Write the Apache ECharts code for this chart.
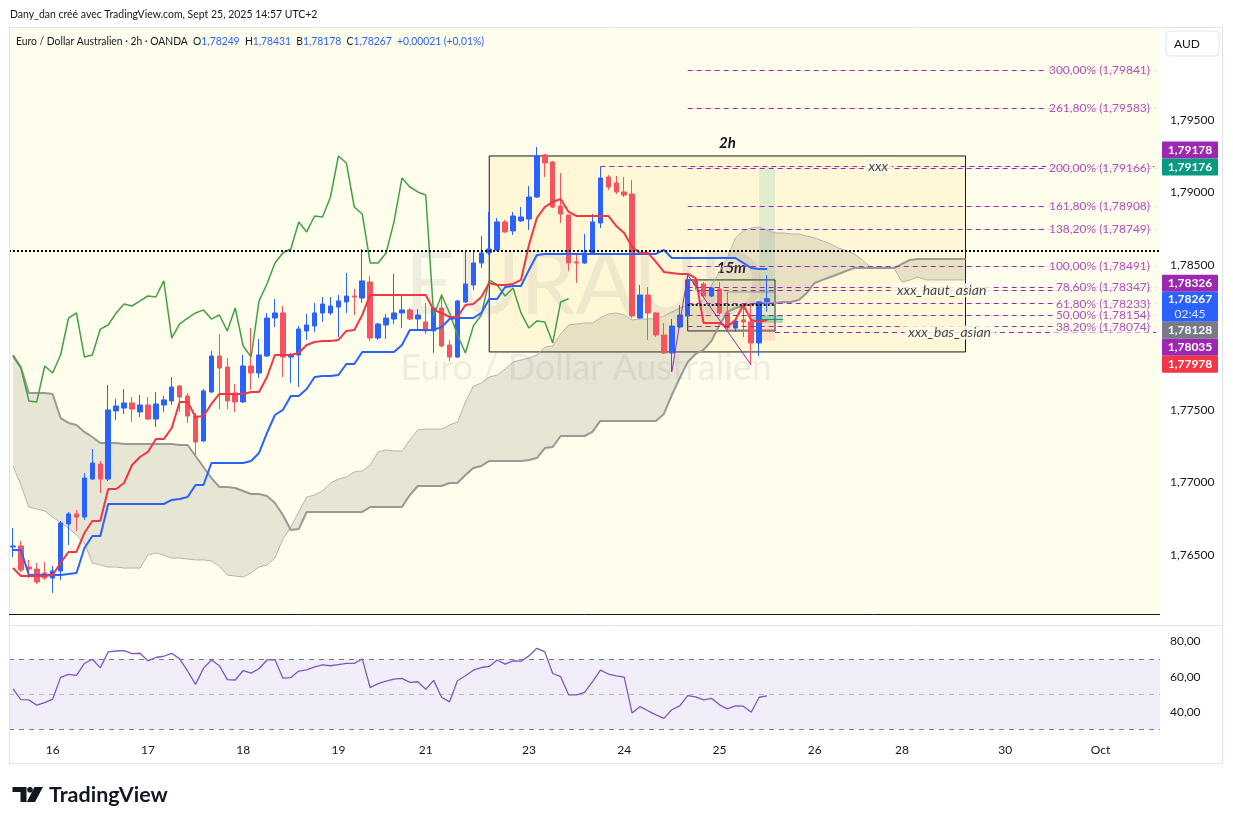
<!DOCTYPE html>
<html><head><meta charset="utf-8">
<script src="https://cdn.jsdelivr.net/npm/echarts@6/dist/echarts.min.js"></script>
<style>html,body{margin:0;padding:0;background:#fff;}#c{width:1233px;height:824px;}</style>
</head><body><div id="c"></div>
<script>
const FONT = 'Lato, "Liberation Sans", sans-serif';
const slotCount = 145;
const dayLabels = ['16','17','18','19','21','23','24','25','26','28','30','Oct'];
const dayIndex  = [5,17,29,41,52,65,77,89,101,112,125,137];

const opens = [1.76554,1.76561,1.76416,1.76402,1.76375,1.76340,1.76389,1.76713,1.76782,1.76761,
1.77023,1.77127,1.77023,1.77493,1.77513,1.77548,1.77486,1.77534,1.77437,1.77534,
1.77562,1.77665,1.77596,1.77458,1.77286,1.77624,1.77872,1.77796,1.77617,1.77555,
1.77803,1.77755,1.77872,1.78134,1.78169,1.77865,1.77879,1.78045,1.78079,1.78169,
1.78169,1.78210,1.78245,1.78286,1.78272,1.78383,1.77996,1.78086,1.78127,1.78169,
1.78190,1.78127,1.78107,1.78045,1.78203,1.77948,1.77865,1.78245,1.78362,1.78514,
1.78583,1.78604,1.78797,1.78735,1.78804,1.78817,1.78969,1.79259,1.79211,1.78907,
1.78845,1.78521,1.78514,1.78583,1.78790,1.79107,1.79066,1.79004,1.78990,1.78134,
1.78293,1.78169,1.78017,1.77893,1.78072,1.78148,1.78397,1.78369,1.78286,1.78334,
1.78169,1.78065,1.78121,1.78107,1.77962,1.78249];
const highs = [1.76685,1.76596,1.76465,1.76444,1.76451,1.76423,1.76734,1.76796,1.76810,1.77065,
1.77230,1.77148,1.77672,1.77575,1.77644,1.77589,1.77603,1.77589,1.77624,1.77596,
1.77727,1.77672,1.77617,1.77479,1.77644,1.77907,1.78024,1.77858,1.77679,1.77879,
1.78065,1.77989,1.78169,1.78265,1.78217,1.77893,1.78079,1.78162,1.78238,1.78279,
1.78279,1.78293,1.78445,1.78334,1.78610,1.78424,1.78100,1.78162,1.78438,1.78286,
1.78203,1.78196,1.78238,1.78210,1.78300,1.77983,1.78259,1.78604,1.78590,1.78700,
1.78866,1.78824,1.78811,1.78866,1.78900,1.79045,1.79314,1.79266,1.79218,1.79135,
1.78845,1.78569,1.78714,1.78852,1.79176,1.79121,1.79114,1.79107,1.79087,1.78362,
1.78348,1.78176,1.78100,1.78127,1.78224,1.78431,1.78417,1.78383,1.78348,1.78383,
1.78314,1.78121,1.78231,1.78238,1.78252,1.78431];
const lows = [1.76485,1.76382,1.76340,1.76299,1.76327,1.76237,1.76327,1.76568,1.76665,1.76741,
1.77017,1.76927,1.77010,1.77431,1.77472,1.77417,1.77451,1.77431,1.77382,1.77486,
1.77534,1.77486,1.77410,1.77189,1.77279,1.77617,1.77506,1.77506,1.77486,1.77548,
1.77638,1.77720,1.77865,1.78072,1.77727,1.77686,1.77658,1.77983,1.78038,1.78107,
1.78155,1.78003,1.78169,1.78155,1.78238,1.77976,1.77983,1.77989,1.78093,1.78065,
1.78121,1.78058,1.78024,1.77893,1.77934,1.77838,1.77858,1.78238,1.78328,1.78479,
1.78569,1.78597,1.78721,1.78707,1.78797,1.78742,1.78962,1.79107,1.78893,1.78790,
1.78459,1.78376,1.78507,1.78576,1.78755,1.79018,1.78990,1.78969,1.78134,1.78127,
1.77983,1.78003,1.77886,1.77762,1.78065,1.78141,1.78328,1.78279,1.78279,1.78155,
1.78052,1.78038,1.78003,1.77810,1.77872,1.78178];
const closes = [1.76561,1.76396,1.76402,1.76313,1.76340,1.76389,1.76720,1.76782,1.76761,1.77030,
1.77134,1.77023,1.77500,1.77527,1.77548,1.77506,1.77534,1.77437,1.77541,1.77569,
1.77658,1.77589,1.77458,1.77279,1.77631,1.77872,1.77789,1.77562,1.77555,1.77803,
1.77755,1.77879,1.78134,1.78169,1.77865,1.77879,1.78058,1.78086,1.78169,1.78231,
1.78217,1.78252,1.78286,1.78279,1.78390,1.77996,1.78093,1.78134,1.78169,1.78190,
1.78127,1.78155,1.78045,1.78203,1.77941,1.77865,1.78252,1.78369,1.78514,1.78583,
1.78610,1.78797,1.78728,1.78838,1.78831,1.78969,1.79252,1.79204,1.78900,1.78852,
1.78514,1.78514,1.78583,1.78797,1.79100,1.79038,1.79004,1.78983,1.78148,1.78293,
1.78169,1.78017,1.77893,1.78079,1.78155,1.78397,1.78362,1.78286,1.78341,1.78169,
1.78065,1.78114,1.78107,1.77962,1.78245,1.78267];

const tenkan = [1.76409,1.76354,1.76354,1.76354,1.76354,1.76361,1.76444,1.76520,1.76520,1.76651,
1.76734,1.76734,1.76954,1.76954,1.76996,1.77120,1.77175,1.77210,1.77299,1.77299,
1.77375,1.77555,1.77555,1.77451,1.77458,1.77541,1.77610,1.77610,1.77610,1.77610,
1.77624,1.77624,1.77727,1.77879,1.77879,1.77879,1.77893,1.77948,1.77969,1.77976,
1.77976,1.77983,1.78045,1.78052,1.78155,1.78293,1.78293,1.78293,1.78293,1.78293,
1.78293,1.78293,1.78293,1.78190,1.78169,1.78141,1.78141,1.78224,1.78231,1.78279,
1.78376,1.78362,1.78362,1.78369,1.78397,1.78638,1.78824,1.78900,1.78935,1.78955,
1.78866,1.78838,1.78838,1.78838,1.78838,1.78838,1.78769,1.78721,1.78624,1.78583,
1.78583,1.78521,1.78452,1.78445,1.78438,1.78438,1.78410,1.78100,1.78100,1.78100,
1.78072,1.78121,1.78224,1.78121,1.78107,1.78121];
const kijun = [1.76534,1.76534,1.76361,1.76361,1.76361,1.76361,1.76361,1.76368,1.76375,1.76547,
1.76630,1.76630,1.76851,1.76851,1.76851,1.76851,1.76851,1.76851,1.76851,1.76851,
1.76879,1.76885,1.76899,1.76982,1.76982,1.77134,1.77134,1.77134,1.77134,1.77134,
1.77148,1.77203,1.77341,1.77465,1.77500,1.77596,1.77596,1.77644,1.77727,1.77734,
1.77734,1.77741,1.77817,1.77817,1.77900,1.77900,1.77900,1.77900,1.77900,1.77948,
1.78052,1.78052,1.78052,1.78052,1.78072,1.78127,1.78134,1.78134,1.78134,1.78169,
1.78265,1.78265,1.78348,1.78355,1.78355,1.78466,1.78569,1.78576,1.78576,1.78576,
1.78576,1.78576,1.78576,1.78576,1.78576,1.78576,1.78576,1.78576,1.78576,1.78576,
1.78576,1.78576,1.78604,1.78548,1.78548,1.78548,1.78548,1.78548,1.78548,1.78548,
1.78548,1.78548,1.78514,1.78479,1.78472,1.78472];
const spanDark = [1.77879,1.77796,1.77617,1.77617,1.77617,1.77610,1.77444,1.77410,1.77396,1.77348,
1.77313,1.77272,1.77272,1.77272,1.77265,1.77265,1.77265,1.77265,1.77265,1.77265,
1.77265,1.77258,1.77258,1.77182,1.77106,1.77030,1.76968,1.76968,1.76961,1.76941,
1.76920,1.76920,1.76906,1.76858,1.76775,1.76672,1.76678,1.76796,1.76796,1.76796,
1.76796,1.76796,1.76796,1.76796,1.76796,1.76830,1.76830,1.76830,1.76830,1.76830,
1.76913,1.76975,1.76975,1.76975,1.76975,1.76996,1.76996,1.77051,1.77099,1.77113,
1.77148,1.77148,1.77148,1.77148,1.77148,1.77155,1.77168,1.77237,1.77244,1.77320,
1.77320,1.77320,1.77320,1.77348,1.77424,1.77424,1.77424,1.77424,1.77424,1.77424,
1.77424,1.77424,1.77472,1.77603,1.77720,1.77831,1.77886,1.77914,1.77976,1.78086,
1.78176,1.78203,1.78217,1.78231,1.78238,1.78238,1.78238,1.78245,1.78245,1.78259,
1.78307,1.78376,1.78397,1.78417,1.78438,1.78459,1.78479,1.78479,1.78479,1.78479,
1.78479,1.78479,1.78507,1.78535,1.78541,1.78541,1.78541,1.78541,1.78541,1.78541,
1.78541];
const spanLight = [1.77113,1.76982,1.76830,1.76816,1.76803,1.76761,1.76720,1.76685,1.76637,1.76582,
1.76444,1.76430,1.76416,1.76416,1.76409,1.76409,1.76409,1.76499,1.76513,1.76499,
1.76478,1.76478,1.76471,1.76465,1.76465,1.76458,1.76423,1.76361,1.76354,1.76347,
1.76375,1.76416,1.76430,1.76478,1.76609,1.76692,1.76796,1.76899,1.76913,1.76941,
1.76996,1.77023,1.77037,1.77072,1.77079,1.77120,1.77210,1.77224,1.77217,1.77217,
1.77293,1.77362,1.77368,1.77368,1.77368,1.77396,1.77417,1.77555,1.77665,1.77686,
1.77727,1.77741,1.77782,1.77831,1.77845,1.77858,1.77879,1.77934,1.77941,1.78024,
1.78086,1.78093,1.78100,1.78100,1.78134,1.78162,1.78169,1.78155,1.78121,1.78127,
1.78127,1.78134,1.78148,1.78176,1.78203,1.78224,1.78231,1.78259,1.78362,1.78452,
1.78548,1.78686,1.78735,1.78755,1.78762,1.78742,1.78721,1.78721,1.78714,1.78714,
1.78700,1.78686,1.78666,1.78645,1.78617,1.78597,1.78576,1.78535,1.78486,1.78486,
1.78486,1.78479,1.78383,1.78397,1.78417,1.78397,1.78397,1.78397,1.78397,1.78397,
1.78397];
const rsi = [53.0,47.0,46.8,43.8,45.3,47.2,59.6,61.3,60.7,67.5,
69.9,65.0,74.1,74.6,74.8,73.1,73.3,69.0,70.9,71.6,
73.3,70.1,63.2,55.6,64.7,69.5,66.2,58.3,58.1,63.5,
62.0,64.5,69.5,69.7,59.2,59.4,63.2,63.9,65.6,66.7,
66.2,66.9,67.5,67.5,70.1,53.8,56.0,57.5,58.6,59.0,
56.8,57.1,52.8,57.9,48.3,45.7,57.7,60.5,63.7,65.2,
65.8,69.5,67.1,69.0,68.8,71.8,76.1,74.1,61.8,60.0,
49.6,49.6,51.1,57.1,63.7,61.5,60.5,59.8,39.3,43.0,
40.6,38.3,36.3,41.2,43.4,49.2,48.5,46.8,47.7,44.0,
41.7,43.4,43.2,39.8,48.3,49.1];

const fibLevels = ['300,00%','261,80%','200,00%','161,80%','138,20%','100,00%','78,60%','61,80%','50,00%','38,20%'];
const fibPrices = [1.79841,1.79583,1.79166,1.78908,1.78749,1.78491,1.78347,1.78233,1.78154,1.78074];
const priceTicks = [1.765,1.770,1.775,1.785,1.790,1.795];
const rsiTicks = [40,60,80];
const hLevelNames  = ['xxx','xxx_haut_asian','xxx_bas_asian'];
const hLevelPrices = [1.79178,1.78326,1.78035];
const hLevelStart  = [74,85,96];
const hLevelTextAt = [109,117,118];
const tagValues = [1.79178,1.79176,1.78326,1.78267,1.78128,1.78035,1.77978];
const tagColors = ['#9c27b0','#089981','#9c27b0','#2962ff','#787b86','#9c27b0','#f23645'];
const dottedLevel = 1.78599;
const box2h = [60,1.79252,120,1.77900];
const box15m = [85,1.78397,96,1.78045];
const inner15m = [90,1.78314,96,1.78052];
const innerDotted = 1.78226;
const zigzag = [[83,1.77762],[85,1.78431],[93,1.77810]];
const positionTool = {entry:1.78128, target:1.79176, stop:1.77978, from:94, to:96};
const headerText = 'Dany_dan créé avec TradingView.com, Sept 25, 2025 14:57 UTC+2';
const legendParts = [['n','Euro / Dollar Australien · 2h · OANDA  O'],['v','1,78249'],['n','  H'],['v','1,78431'],
  ['n','  B'],['v','1,78178'],['n','  C'],['v','1,78267'],['v','  +0,00021 (+0,01%)']];

const BG = '#fffdeb';
const fmtP = v => v.toFixed(5).replace('.', ',');
const categories = Array.from({length: slotCount}, () => '');
dayIndex.forEach((ix, k) => categories[ix] = dayLabels[k]);
const candleData = opens.map((o, i) => [o, closes[i], lows[i], highs[i]]);
const chikou = closes.slice(25);
const cloudBase = spanDark.map((d, i) => Math.min(d, spanLight[i]));
const cloudBand = spanDark.map((d, i) => Math.abs(d - spanLight[i]));

const chart = echarts.init(document.getElementById('c'), null, {renderer: 'canvas'});
const purple = '#9c27b0';
const dash = [5, 4];
const hline = (start, price, color, type, width) => [{coord: [start, price]}, {coord: [slotCount - 1, price], lineStyle: {color, type, width}}];

const option = {
  animation: false,
  textStyle: {fontFamily: FONT},
  grid: [
    {left: 9, width: 1151, top: 28, height: 586, show: true, backgroundColor: BG, borderWidth: 0},
    {left: 9, width: 1151, top: 626, height: 114, show: true, backgroundColor: '#ffffff', borderWidth: 0}
  ],
  xAxis: [
    {type: 'category', gridIndex: 0, data: categories, boundaryGap: true, show: false},
    {type: 'category', gridIndex: 1, data: categories, boundaryGap: true,
     axisLine: {show: false}, axisTick: {show: false},
     axisLabel: {interval: 0, color: '#131722', fontSize: 12, margin: 4, fontFamily: FONT}}
  ],
  yAxis: [
    {type: 'value', gridIndex: 0, position: 'right', min: 1.76092, max: 1.80135, scale: true,
     splitLine: {show: false}, axisLine: {show: false}, axisTick: {show: false},
     axisLabel: {customValues: priceTicks, formatter: fmtP, color: '#131722', fontSize: 12, margin: 10, fontFamily: FONT}},
    {type: 'value', gridIndex: 1, position: 'right', min: 24, max: 88.8,
     splitLine: {show: false}, axisLine: {show: false}, axisTick: {show: false},
     axisLabel: {customValues: rsiTicks, formatter: v => v.toFixed(2).replace('.', ','), color: '#131722', fontSize: 12, margin: 10, fontFamily: FONT}}
  ],
  series: [
    {name: 'boxes', type: 'line', data: [], z: 1, silent: true,
     markArea: {silent: true, data: [
       [{coord: [box2h[0], box2h[1]], itemStyle: {color: 'rgba(255,229,140,0.22)', borderColor: '#131722', borderWidth: 1},
         label: {show: true, position: 'top', distance: 5, formatter: '2h', color: '#131722', fontSize: 15, fontWeight: 'bold', fontStyle: 'italic', fontFamily: FONT}},
        {coord: [box2h[2], box2h[3]]}],
       [{coord: [box15m[0], box15m[1]], itemStyle: {color: 'rgba(255,229,140,0.15)', borderColor: '#131722', borderWidth: 1},
         label: {show: true, position: 'top', distance: 4, formatter: '15m', color: '#131722', fontSize: 15, fontWeight: 'bold', fontStyle: 'italic', fontFamily: FONT}},
        {coord: [box15m[2], box15m[3]]}]
     ]}},
    {name: 'cloudBase', type: 'line', data: cloudBase, stack: 'kumo', symbol: 'none', lineStyle: {opacity: 0}, z: 2, silent: true},
    {name: 'cloudBand', type: 'line', data: cloudBand, stack: 'kumo', symbol: 'none', lineStyle: {opacity: 0},
     areaStyle: {color: 'rgba(128,128,118,0.19)', opacity: 1}, z: 2, silent: true},
    {name: 'spanLight', type: 'line', data: spanLight, symbol: 'none', lineStyle: {color: '#b5b5b0', width: 1}, z: 2, silent: true},
    {name: 'spanDark', type: 'line', data: spanDark, symbol: 'none', lineStyle: {color: '#999996', width: 2}, z: 2, silent: true},
    {name: 'inner', type: 'line', data: [], z: 3, silent: true,
     markArea: {silent: true, data: [
       [{coord: [inner15m[0], inner15m[1]], itemStyle: {color: 'rgba(0,0,0,0)', borderColor: '#9598a1', borderWidth: 1}}, {coord: [inner15m[2], inner15m[3]]}]
     ]}},
    {name: 'EURAUD', type: 'candlestick', data: candleData, barWidth: 5, z: 3,
     itemStyle: {color: '#2962ff', color0: '#f7525f', borderColor: '#2962ff', borderColor0: '#f7525f', borderWidth: 1}},
    {name: 'position', type: 'line', data: [], z: 4, silent: true,
     markArea: {silent: true, data: [
       [{coord: [positionTool.from, positionTool.target], itemStyle: {color: 'rgba(8,153,129,0.12)'}}, {coord: [positionTool.to, positionTool.entry]}],
       [{coord: [positionTool.from, positionTool.entry], itemStyle: {color: 'rgba(242,54,69,0.12)'}}, {coord: [positionTool.to, positionTool.stop]}],
       [{coord: [positionTool.from - 1, 1.78155], itemStyle: {color: 'rgba(8,153,129,0.3)'}}, {coord: [positionTool.to + 1, 1.78100]}]
     ]}},
    {name: 'chikou', type: 'line', data: chikou, symbol: 'none', lineStyle: {color: '#43a047', width: 1.5}, z: 4},
    {name: 'kijun', type: 'line', data: kijun, symbol: 'none', lineStyle: {color: '#2962ff', width: 2}, z: 4},
    {name: 'tenkan', type: 'line', data: tenkan, symbol: 'none', lineStyle: {color: '#f23645', width: 2}, z: 4},
    {name: 'fibLines', type: 'line', data: [], z: 5, silent: true,
     markLine: {silent: true, symbol: ['none', 'none'], label: {show: false},
       lineStyle: {color: purple, type: dash, width: 1},
       data: fibPrices.map(p => hline(85, p, purple, dash, 1))}},
    {name: 'fibLabels', type: 'scatter', z: 6, silent: true, symbolSize: 0,
     data: fibPrices.map((p, k) => ({value: [slotCount - 1, p], name: fibLevels[k] + ' (' + fmtP(p) + ')'})),
     label: {show: true, position: 'left', distance: 3, formatter: p => p.name, color: purple, fontSize: 12,
       backgroundColor: BG, padding: [0, 3], fontFamily: FONT}},
    {name: 'drawings', type: 'line', data: [], z: 7, silent: true,
     markLine: {silent: true, symbol: ['none', 'none'], label: {show: false},
       data: [
         ...hLevelPrices.map((p, k) => hline(hLevelStart[k], p, purple, dash, 1)),
         [{yAxis: dottedLevel, x: 9, lineStyle: {color: '#000', type: [2, 2], width: 2}}, {yAxis: dottedLevel, x: 1160}],
         [{coord: [box15m[0], innerDotted]}, {coord: [box15m[2], innerDotted], lineStyle: {color: '#131722', type: [2, 2], width: 2}}],
         [{coord: zigzag[0]}, {coord: zigzag[1], lineStyle: {color: purple, type: 'solid', width: 1}}],
         [{coord: zigzag[1]}, {coord: zigzag[2], lineStyle: {color: purple, type: 'solid', width: 1}}],
         [{coord: [positionTool.from, positionTool.entry]}, {coord: [positionTool.to + 1, positionTool.entry], lineStyle: {color: '#089981', type: 'solid', width: 1}}]
       ]}},
    {name: 'drawLabels', type: 'scatter', z: 8, silent: true, symbolSize: 0,
     data: hLevelPrices.map((p, k) => ({value: [hLevelTextAt[k], p], name: hLevelNames[k]})),
     label: {show: true, position: 'inside', formatter: p => p.name, color: '#131722', fontSize: 14, fontStyle: 'italic',
       backgroundColor: BG, padding: [0, 4], fontFamily: FONT}},
    {name: 'RSI', type: 'line', xAxisIndex: 1, yAxisIndex: 1, data: rsi, symbol: 'none', z: 4,
     lineStyle: {color: '#7e57c2', width: 1.3},
     markArea: {silent: true, data: [[{yAxis: 70, itemStyle: {color: 'rgba(126,87,194,0.1)'}}, {yAxis: 30}]]},
     markLine: {silent: true, symbol: ['none', 'none'], label: {show: false},
       data: [
         {yAxis: 70, lineStyle: {color: '#787b86', type: [5, 5], width: 1}},
         {yAxis: 50, lineStyle: {color: 'rgba(120,123,134,0.5)', type: [5, 5], width: 1}},
         {yAxis: 30, lineStyle: {color: '#787b86', type: [5, 5], width: 1}}
       ]}}
  ]
};
chart.setOption(option);

// price tags on the right axis (stacked like TradingView)
const yOf = v => chart.convertToPixel({yAxisIndex: 0}, v);
const TAG_H = 17, anchor = 3;
const centers = tagValues.map(yOf);
const pos = centers.slice();
const blueTop = centers[anchor] - 7, blueBottom = centers[anchor] + 23;
let limit = blueTop;
for (let k = anchor - 1; k >= 0; k--) { pos[k] = Math.min(centers[k], limit - TAG_H / 2); limit = pos[k] - TAG_H / 2; }
limit = blueBottom;
for (let k = anchor + 1; k < tagValues.length; k++) { pos[k] = Math.max(centers[k], limit + TAG_H / 2); limit = pos[k] + TAG_H / 2; }

const g = [];
// watermark
g.push({type: 'text', z: 2.5, silent: true, style: {text: 'EURAUD', x: 585, y: 286, align: 'center', verticalAlign: 'middle', fontSize: 88, fontFamily: FONT, fill: 'rgba(120,123,134,0.12)'}});
g.push({type: 'text', z: 2.5, silent: true, style: {text: 'Euro / Dollar Australien', x: 586, y: 368, align: 'center', verticalAlign: 'middle', fontSize: 36, fontFamily: FONT, fill: 'rgba(120,123,134,0.12)'}});
// frame
const L = (x1, y1, x2, y2, c, w) => g.push({type: 'line', z: 20, silent: true, shape: {x1, y1, x2, y2}, style: {stroke: c, lineWidth: w || 1}});
L(9, 27.5, 1222, 27.5, '#e0e3eb');
L(9.5, 27, 9.5, 763, '#e0e3eb');
L(1222.5, 27, 1222.5, 763, '#e0e3eb');
L(9, 763.5, 1222, 763.5, '#e0e3eb');
L(9, 625.5, 1222, 625.5, '#e0e3eb');
L(9, 614.5, 1160, 614.5, '#131722');
// header
g.push({type: 'text', z: 20, x: 10, y: 14, scaleX: 0.872, style: {text: headerText, x: 0, y: 0, verticalAlign: 'middle', fontSize: 12, fontFamily: FONT, fill: '#131722'}});
const rich = {n: {fill: '#131722', fontSize: 12, fontFamily: FONT}, v: {fill: '#2962ff', fontSize: 12, fontFamily: FONT}};
g.push({type: 'text', z: 20, x: 16, y: 41, scaleX: 0.86, style: {text: legendParts.map(([k, t]) => '{' + k + '|' + t + '}').join(''), x: 0, y: 0, verticalAlign: 'middle', rich, fontSize: 12, fontFamily: FONT}});
// AUD button
g.push({type: 'rect', z: 20, shape: {x: 1166, y: 31, width: 53, height: 25, r: 4}, style: {fill: '#fff', stroke: '#e0e3eb', lineWidth: 1}});
g.push({type: 'text', z: 21, style: {text: 'AUD', x: 1174, y: 44, verticalAlign: 'middle', fontSize: 12, fontFamily: FONT, fill: '#131722'}});
// tags
tagValues.forEach((v, k) => {
  const isBlue = k === anchor;
  const top = isBlue ? blueTop : pos[k] - TAG_H / 2;
  const h = isBlue ? 30 : TAG_H;
  g.push({type: 'rect', z: 22, shape: {x: 1162, y: top, width: 56, height: h, r: 1}, style: {fill: tagColors[k]}});
  g.push({type: 'text', z: 23, style: {text: fmtP(v), x: 1190, y: isBlue ? centers[k] : pos[k], align: 'center', verticalAlign: 'middle', fontSize: 12, fontWeight: 'bold', fontFamily: FONT, fill: '#fff'}});
  if (isBlue) g.push({type: 'text', z: 23, style: {text: '02:45', x: 1190, y: centers[k] + 15, align: 'center', verticalAlign: 'middle', fontSize: 12, fontFamily: FONT, fill: 'rgba(255,255,255,0.85)'}});
});
// TradingView logo
g.push({type: 'polygon', z: 20, shape: {points: [[12.5,787],[26.5,787],[26.5,802],[20.5,802],[20.5,792],[12.5,792]]}, style: {fill: '#131722'}});
g.push({type: 'circle', z: 20, shape: {cx: 30, cy: 789.7, r: 2.8}, style: {fill: '#131722'}});
g.push({type: 'polygon', z: 20, shape: {points: [[34.5,787],[43,787],[35,802],[26.8,802]]}, style: {fill: '#131722'}});
g.push({type: 'text', z: 20, style: {text: 'TradingView', x: 49, y: 795, verticalAlign: 'middle', fontSize: 21.5, fontWeight: 'bold', fontFamily: FONT, fill: '#131722'}});

chart.setOption({graphic: {elements: g}});
</script></body></html>
